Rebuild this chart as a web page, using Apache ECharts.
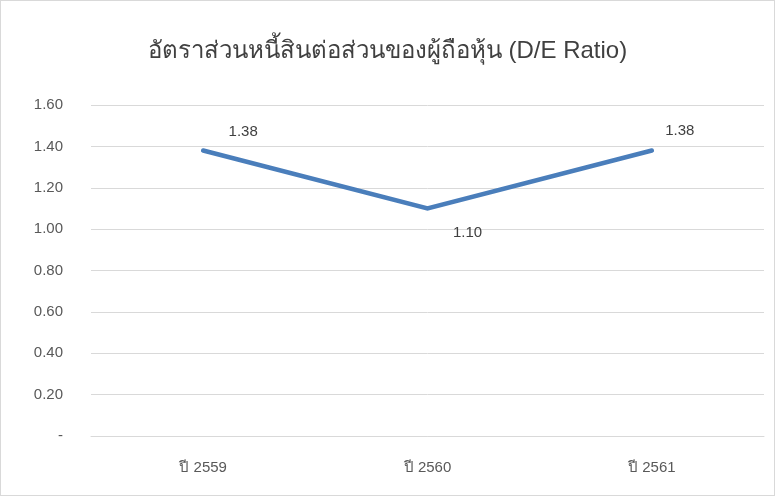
<!DOCTYPE html>
<html><head><meta charset="utf-8">
<script src="https://cdn.jsdelivr.net/npm/echarts@6/dist/echarts.min.js"></script>
<style>html,body{margin:0;padding:0;background:#fff}#c{width:775px;height:496px;box-sizing:border-box;border:1px solid #d9d9d9}</style>
</head><body><div id="c"></div>
<script>
const titleText = 'อัตราส่วนหนี้สินต่อส่วนของผู้ถือหุ้น (D/E Ratio)';
const categories = ['ปี 2559', 'ปี 2560', 'ปี 2561'];
const deRatio = [1.38, 1.10, 1.38];
const yTicks = [0, 0.2, 0.4, 0.6, 0.8, 1.0, 1.2, 1.4, 1.6];
const labelOffsets = [[40, -19], [40, 24], [28, -20]];

const chart = echarts.init(document.getElementById('c'), null, {renderer: 'canvas'});
chart.setOption({
  animation: false,
  title: {
    text: titleText, left: 'center', top: 33,
    textStyle: {fontFamily: 'sans-serif', fontSize: 24, fontWeight: 'normal', color: '#404040'}
  },
  grid: {left: 90, right: 10, top: 104, bottom: 59, containLabel: false},
  xAxis: {
    type: 'category', data: categories, boundaryGap: true,
    axisLine: {lineStyle: {color: '#d9d9d9', width: 1}},
    axisTick: {show: false},
    axisLabel: {color: '#595959', fontSize: 15, margin: 24, fontFamily: 'sans-serif'}
  },
  yAxis: {
    type: 'value', min: yTicks[0], max: yTicks[yTicks.length - 1], interval: 0.2,
    axisLine: {show: false}, axisTick: {show: false},
    splitLine: {lineStyle: {color: '#d9d9d9', width: 1}},
    axisLabel: {
      color: '#595959', fontSize: 15, margin: 28, fontFamily: 'sans-serif',
      formatter: v => v === 0 ? '-' : v.toFixed(2)
    }
  },
  series: [{
    type: 'line',
    data: deRatio.map((v, i) => ({value: v, label: {offset: labelOffsets[i]}})),
    showSymbol: true, symbol: 'circle', symbolSize: 0,
    itemStyle: {color: '#4a7ebb'},
    lineStyle: {color: '#4a7ebb', width: 4.5, cap: 'round', join: 'miter'},
    label: {
      show: true, position: 'inside', color: '#404040', fontSize: 15, fontFamily: 'sans-serif',
      formatter: p => p.value.toFixed(2)
    }
  }]
});
</script></body></html>
